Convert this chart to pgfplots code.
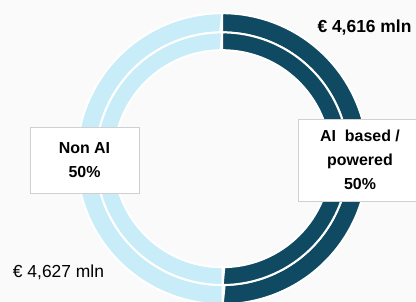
\documentclass[border=0pt]{standalone}
\usepackage{pgfplots}
\pgfplotsset{compat=1.18}
\usepackage{pgfplotstable}
\usepackage{fontspec}
\setmainfont{Liberation Sans}
\definecolor{dark}{HTML}{0F4A62}
\definecolor{light}{HTML}{C8EDF9}
\definecolor{bg}{HTML}{FAFAFA}
\definecolor{boxline}{HTML}{D0D0D0}

\pgfplotstableread{
label value
AI 4616
NonAI 4627
}\segs

% annular sector: color, start angle, end angle, outer r, inner r
\newcommand\ringseg[5]{%
\addplot[fill=#1, draw=white, line width=2bp, domain=0:2, samples=401, variable=\t]
 ({222.2 + ifthenelse(\t<=1, #4, #5)*cos(ifthenelse(\t<=1, #2+(#3-#2)*\t, #3+(#2-#3)*(\t-1)))},
  {143.3 + ifthenelse(\t<=1, #4, #5)*sin(ifthenelse(\t<=1, #2+(#3-#2)*\t, #3+(#2-#3)*(\t-1)))}) -- cycle;
}

\begin{document}
\begin{tikzpicture}
\pgfplotstablegetelem{0}{value}\of\segs \let\va\pgfplotsretval
\pgfplotstablegetelem{1}{value}\of\segs \let\vb\pgfplotsretval
\pgfmathsetmacro{\aEnd}{90-360*(\va/(\va+\vb))}
\clip (0,0) rectangle (416bp,302bp);
\fill[bg] (0,0) rectangle (416bp,302bp);
\begin{axis}[at={(0,0)}, anchor=south west, scale only axis,
  width=416bp, height=302bp, xmin=0, xmax=416, ymin=0, ymax=302,
  hide axis, clip=false]
% outer ring
\ringseg{dark}{90}{\aEnd}{145.5}{126.3}
\ringseg{light}{\aEnd}{-270}{145.5}{126.3}
% inner ring
\ringseg{dark}{90}{\aEnd}{126.3}{108.5}
\ringseg{light}{\aEnd}{-270}{126.3}{108.5}

\node[draw=boxline, fill=white, line width=0.8bp, minimum width=109bp, minimum height=66bp,
  inner sep=0pt, align=center, font=\bfseries\fontsize{16}{24.5}\selectfont]
  at (axis cs:84.5,142) {Non AI\\50\%};
\node[draw=boxline, fill=white, line width=0.8bp, minimum width=124bp, minimum height=82bp,
  inner sep=0pt, align=center, font=\bfseries\fontsize{16}{24}\selectfont]
  at (axis cs:360,142) {AI\ \ based /\\powered\\50\%};
\node[anchor=base, inner sep=0pt, font=\bfseries\fontsize{17.5}{20}\selectfont]
  at (axis cs:364.5,269) {€ 4,616 mln};
\node[anchor=base, inner sep=0pt, font=\fontsize{17.5}{20}\selectfont]
  at (axis cs:58.5,25) {€ 4,627 mln};
\end{axis}
\end{tikzpicture}
\end{document}
